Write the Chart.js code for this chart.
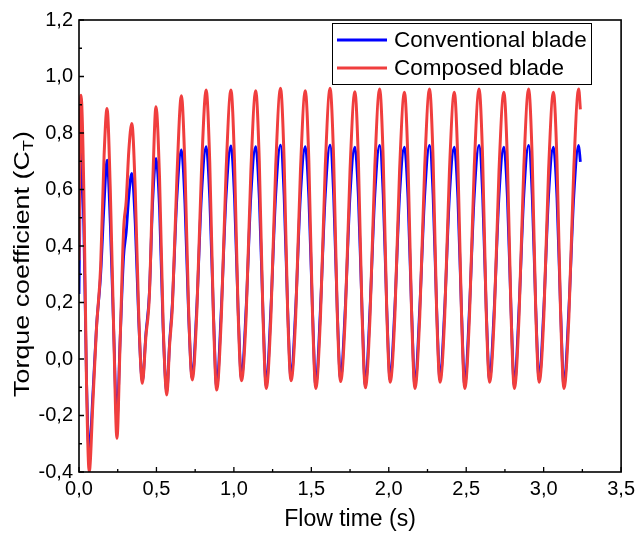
<!DOCTYPE html>
<html>
<head>
<meta charset="utf-8">
<script src="https://cdn.jsdelivr.net/npm/chart.js@4/dist/chart.umd.min.js"></script>
<style>
html,body{margin:0;padding:0;background:#ffffff;}
#wrap{width:640px;height:533px;}
</style>
</head>
<body>
<div id="wrap"><canvas id="c" width="640" height="533"></canvas></div>
<script>
// ---- Data ----
const flowTime = [
  0.000, 0.013, 0.031, 0.048, 0.066, 0.090, 0.113, 0.140, 0.162, 0.181,
  0.202, 0.224, 0.245, 0.265, 0.288, 0.305, 0.322, 0.341,
  0.363, 0.386, 0.409, 0.432, 0.454, 0.476, 0.497,
  0.520, 0.543, 0.567, 0.585, 0.603, 0.632, 0.661,
  0.684, 0.708, 0.731, 0.761, 0.791, 0.821,
  0.844, 0.867, 0.889, 0.919, 0.950, 0.981,
  1.004, 1.027, 1.049, 1.079, 1.110, 1.141,
  1.164, 1.187, 1.209, 1.239, 1.270, 1.301,
  1.324, 1.347, 1.369, 1.399, 1.430, 1.461,
  1.484, 1.507, 1.529, 1.559, 1.590, 1.621,
  1.644, 1.667, 1.689, 1.719, 1.750, 1.781,
  1.804, 1.827, 1.849, 1.879, 1.910, 1.941,
  1.964, 1.987, 2.009, 2.039, 2.070, 2.101,
  2.124, 2.147, 2.169, 2.200, 2.232, 2.263,
  2.286, 2.309, 2.331, 2.361, 2.392, 2.423,
  2.446, 2.469, 2.491, 2.521, 2.552, 2.583,
  2.606, 2.629, 2.651, 2.681, 2.712, 2.743,
  2.766, 2.789, 2.811, 2.841, 2.872, 2.903,
  2.926, 2.949, 2.971, 3.001, 3.032, 3.063,
  3.086, 3.109, 3.131, 3.163, 3.195, 3.226,
  3.237
];

const conventionalCT = [
  0.230, 0.740, 0.470, -0.060, -0.332, -0.120, 0.114, 0.300, 0.550, 0.704,
  0.480, 0.100, -0.215, 0.060, 0.362, 0.450, 0.580, 0.657,
  0.480, 0.130, -0.080, 0.090, 0.230, 0.560, 0.710,
  0.530, 0.110, -0.115, 0.060, 0.200, 0.570, 0.740,
  0.550, 0.150, -0.066, 0.190, 0.580, 0.752,
  0.57, 0.18, -0.100, 0.18, 0.58, 0.754,
  0.57, 0.18, -0.069, 0.18, 0.58, 0.752,
  0.57, 0.18, -0.096, 0.18, 0.58, 0.757,
  0.58, 0.18, -0.069, 0.18, 0.58, 0.752,
  0.57, 0.18, -0.096, 0.18, 0.58, 0.757,
  0.58, 0.18, -0.072, 0.18, 0.58, 0.750,
  0.57, 0.18, -0.094, 0.18, 0.58, 0.756,
  0.58, 0.18, -0.074, 0.18, 0.58, 0.750,
  0.57, 0.18, -0.096, 0.18, 0.58, 0.756,
  0.58, 0.18, -0.074, 0.18, 0.58, 0.750,
  0.57, 0.18, -0.096, 0.18, 0.58, 0.756,
  0.58, 0.18, -0.074, 0.18, 0.58, 0.750,
  0.57, 0.18, -0.096, 0.18, 0.58, 0.756,
  0.58, 0.18, -0.074, 0.18, 0.58, 0.750,
  0.57, 0.18, -0.096, 0.18, 0.58, 0.756,
  0.698
];

const composedCT = [
  0.350, 0.934, 0.600, -0.070, -0.399, -0.150, 0.110, 0.330, 0.720, 0.887,
  0.600, 0.100, -0.281, 0.050, 0.457, 0.560, 0.740, 0.834,
  0.600, 0.150, -0.086, 0.080, 0.220, 0.620, 0.893,
  0.640, 0.130, -0.127, 0.050, 0.185, 0.640, 0.932,
  0.680, 0.170, -0.074, 0.170, 0.670, 0.952,
  0.70, 0.17, -0.110, 0.15, 0.67, 0.952,
  0.70, 0.17, -0.077, 0.15, 0.67, 0.950,
  0.70, 0.17, -0.104, 0.15, 0.68, 0.958,
  0.71, 0.17, -0.077, 0.15, 0.67, 0.950,
  0.70, 0.17, -0.104, 0.15, 0.68, 0.958,
  0.71, 0.17, -0.080, 0.15, 0.67, 0.946,
  0.70, 0.17, -0.102, 0.15, 0.68, 0.956,
  0.71, 0.17, -0.082, 0.15, 0.67, 0.944,
  0.70, 0.17, -0.104, 0.15, 0.68, 0.956,
  0.71, 0.17, -0.082, 0.15, 0.67, 0.944,
  0.70, 0.17, -0.104, 0.15, 0.68, 0.956,
  0.71, 0.17, -0.082, 0.15, 0.67, 0.944,
  0.70, 0.17, -0.104, 0.15, 0.68, 0.956,
  0.71, 0.17, -0.082, 0.15, 0.67, 0.944,
  0.70, 0.17, -0.104, 0.15, 0.68, 0.956,
  0.884
];

const seriesLabels = ['Conventional blade', 'Composed blade'];
const xMajorTicks = [0, 0.5, 1.0, 1.5, 2.0, 2.5, 3.0, 3.5];
const xMinorTicks = [0.25, 0.75, 1.25, 1.75, 2.25, 2.75, 3.25];
const yMajorTicks = [-0.4, -0.2, 0.0, 0.2, 0.4, 0.6, 0.8, 1.0, 1.2];
const yMinorTicks = [-0.3, -0.1, 0.1, 0.3, 0.5, 0.7, 0.9, 1.1];
const xTitle = 'Flow time (s)';
const yTitleMain = 'Torque coefficient (C';
const yTitleSub = 'T';
const yTitleEnd = ')';

// ---- Chart ----
const FONT = '"Liberation Sans", Arial, Helvetica, sans-serif';
const BLUE = '#0000ff';
const RED = 'rgb(240,62,62)';

function commaFmt(v) {
  if (Math.abs(v) < 1e-9) v = 0;
  return v.toFixed(1).replace('.', ',');
}

const toPoints = (ys) => flowTime.map((t, i) => ({ x: t, y: ys[i] }));

const decor = {
  id: 'decor',
  afterDatasetsDraw(chart) {
    const ctx = chart.ctx;
    const xs = chart.scales.x, ys = chart.scales.y;
    const a = chart.chartArea;
    ctx.save();
    // frame
    ctx.strokeStyle = '#000';
    ctx.lineWidth = 1.6;
    ctx.strokeRect(a.left, a.top, a.right - a.left, a.bottom - a.top);
    // inward ticks
    ctx.lineWidth = 1.3;
    ctx.beginPath();
    xMajorTicks.forEach(v => { const p = xs.getPixelForValue(v); ctx.moveTo(p, a.bottom); ctx.lineTo(p, a.bottom - 5); });
    xMinorTicks.forEach(v => { const p = xs.getPixelForValue(v); ctx.moveTo(p, a.bottom); ctx.lineTo(p, a.bottom - 3); });
    yMajorTicks.forEach(v => { const p = ys.getPixelForValue(v); ctx.moveTo(a.left, p); ctx.lineTo(a.left + 5, p); });
    yMinorTicks.forEach(v => { const p = ys.getPixelForValue(v); ctx.moveTo(a.left, p); ctx.lineTo(a.left + 3, p); });
    ctx.stroke();

    // legend
    const lx = 332, ly = 23, lw = 259, lh = 61;
    ctx.fillStyle = '#fff';
    ctx.fillRect(lx, ly, lw, lh);
    ctx.strokeStyle = '#000';
    ctx.lineWidth = 1;
    ctx.strokeRect(lx + 0.5, ly + 0.5, lw, lh);
    const rows = [40, 68];
    const dsOrder = [0, 1];
    ctx.font = '22.5px ' + FONT;
    ctx.textBaseline = 'middle';
    ctx.textAlign = 'left';
    dsOrder.forEach((di, k) => {
      const ds = chart.data.datasets[di];
      ctx.strokeStyle = ds.borderColor;
      ctx.lineWidth = 2.8;
      ctx.beginPath();
      ctx.moveTo(337, rows[k]);
      ctx.lineTo(387, rows[k]);
      ctx.stroke();
      ctx.fillStyle = '#000';
      ctx.fillText(ds.label, 394, rows[k] + 1);
    });

    // y-axis title with subscript
    const fMain = '22px ' + FONT, fSub = '15px ' + FONT;
    ctx.font = fMain;
    const w1 = ctx.measureText(yTitleMain).width;
    const w3 = ctx.measureText(yTitleEnd).width;
    ctx.font = fSub;
    const w2 = ctx.measureText(yTitleSub).width;
    const total = w1 + w2 + w3;
    const cy = 264;
    ctx.translate(21, cy);
    ctx.rotate(-Math.PI / 2);
    ctx.scale(1.22, 1);
    ctx.fillStyle = '#000';
    ctx.textBaseline = 'alphabetic';
    ctx.font = fMain;
    let x0 = -total / 2;
    ctx.fillText(yTitleMain, x0, 8);
    ctx.font = fSub;
    ctx.fillText(yTitleSub, x0 + w1, 12);
    ctx.font = fMain;
    ctx.fillText(yTitleEnd, x0 + w1 + w2, 8);
    ctx.restore();
  }
};

new Chart(document.getElementById('c'), {
  type: 'line',
  data: {
    datasets: [
      {
        label: seriesLabels[0],
        data: toPoints(conventionalCT),
        borderColor: BLUE,
        backgroundColor: BLUE,
        borderWidth: 2.8,
        pointRadius: 0,
        cubicInterpolationMode: 'monotone',
        fill: false,
        order: 2
      },
      {
        label: seriesLabels[1],
        data: toPoints(composedCT),
        borderColor: RED,
        backgroundColor: RED,
        borderWidth: 3,
        pointRadius: 0,
        cubicInterpolationMode: 'monotone',
        fill: false,
        order: 1
      }
    ]
  },
  options: {
    responsive: false,
    animation: false,
    devicePixelRatio: 1,
    layout: { padding: { top: 20, right: 14, left: 0, bottom: 0 } },
    plugins: { legend: { display: false }, tooltip: { enabled: false } },
    scales: {
      x: {
        type: 'linear',
        min: 0, max: 3.5,
        afterFit: (s) => { s.height = 61; },
        afterBuildTicks: (s) => { s.ticks = xMajorTicks.map(v => ({ value: v })); },
        grid: { display: false, drawTicks: false },
        border: { display: false },
        ticks: {
          padding: 5,
          color: '#000',
          font: { family: FONT, size: 20 },
          callback: (v) => commaFmt(v),
          maxRotation: 0,
          autoSkip: false
        },
        title: {
          display: true,
          text: xTitle,
          color: '#000',
          font: { family: FONT, size: 23 },
          padding: { top: 0, bottom: 0 }
        }
      },
      y: {
        type: 'linear',
        min: -0.4, max: 1.2,
        afterFit: (s) => { s.width = 79; },
        afterBuildTicks: (s) => { s.ticks = yMajorTicks.map(v => ({ value: v })); },
        grid: { display: false, drawTicks: false },
        border: { display: false },
        ticks: {
          padding: 6,
          color: '#000',
          font: { family: FONT, size: 20 },
          callback: (v) => commaFmt(v),
          autoSkip: false
        }
      }
    }
  },
  plugins: [decor]
});
</script>
</body>
</html>
